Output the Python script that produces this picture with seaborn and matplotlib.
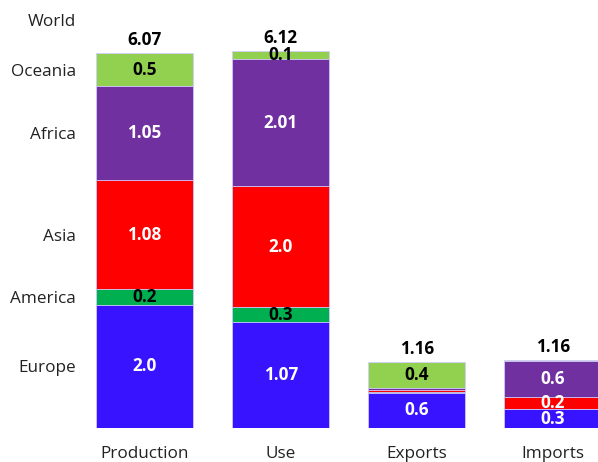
import pandas as pd
import matplotlib
matplotlib.use("Agg")
from matplotlib import pyplot as plt
import seaborn as sns

# data (segment heights) and the printed labels
categories = ["Production", "Use", "Exports", "Imports"]
regions = ["Europe", "America", "Asia", "Africa", "Oceania"]
europe = [2.0, 1.71, 0.57, 0.30]
america = [0.25, 0.25, 0.02, 0.015]
asia = [1.77, 1.96, 0.02, 0.195]
africa = [1.52, 2.06, 0.035, 0.58]
oceania = [0.53, 0.135, 0.42, 0.015]

europe_lbl = ["2.0", "1.07", "0.6", "0.3"]
america_lbl = ["0.2", "0.3", None, None]
asia_lbl = ["1.08", "2.0", None, "0.2"]
africa_lbl = ["1.05", "2.01", None, "0.6"]
oceania_lbl = ["0.5", "0.1", "0.4", None]
totals_lbl = ["6.07", "6.12", "1.16", "1.16"]

colors = ["#3813FF", "#00B050", "#FF0000", "#7030A0", "#92D050"]
text_colors = ["white", "black", "white", "white", "black"]

sns.set_style("white")
plt.rcParams["font.family"] = ["Open Sans", "DejaVu Sans"]

values = [europe, america, asia, africa, oceania]
labels = [europe_lbl, america_lbl, asia_lbl, africa_lbl, oceania_lbl]

df = pd.DataFrame(dict(zip(regions, values)), index=categories)
cum = df.cumsum(axis=1)

fig = plt.figure(figsize=(5.98, 4.62), dpi=100)
ax = fig.add_axes([96 / 598, 34 / 462, 1 - 96 / 598, 428 / 462])

# layered stacked bars: draw cumulative totals from the top down
for i in range(len(regions) - 1, -1, -1):
    d = pd.DataFrame({"cat": categories, "val": cum[regions[i]].values})
    sns.barplot(data=d, x="cat", y="val", order=categories, color=colors[i],
                saturation=1, width=0.713, edgecolor="#d4ccff", linewidth=0.6,
                ax=ax)

# segment labels
for i, r in enumerate(regions):
    for j, c in enumerate(categories):
        txt = labels[i][j]
        if txt is None:
            continue
        mid = cum[r].iloc[j] - df[r].iloc[j] / 2
        ax.text(j, mid, txt, ha="center", va="center", fontsize=12.3,
                fontweight="bold", color=text_colors[i])

# totals above bars
for j, c in enumerate(categories):
    ax.annotate(totals_lbl[j], (j, cum["Oceania"].iloc[j]), xytext=(0, 3),
                textcoords="offset points", ha="center", va="bottom",
                fontsize=12.3, fontweight="bold", color="black")

# region names as y tick labels at the Production segment midpoints
prod_mid = [cum[r].iloc[0] - df[r].iloc[0] / 2 for r in regions]
ax.set_yticks(prod_mid + [cum["Oceania"].iloc[0] + 0.55])
ax.set_yticklabels(regions + ["World"])

ax.set_xlim(-0.356, (598 - 144.5) / 136.17)
ax.set_ylim(0, 428 / 61.7)
ax.set_xlabel("")
ax.set_ylabel("")
ax.tick_params(axis="y", length=0, pad=14.5, labelsize=12.3, labelcolor="#222222")
ax.tick_params(axis="x", length=0, pad=13, labelsize=12.3, labelcolor="#222222")
sns.despine(ax=ax, left=True, bottom=True)

plt.savefig("out.png", dpi=100)
